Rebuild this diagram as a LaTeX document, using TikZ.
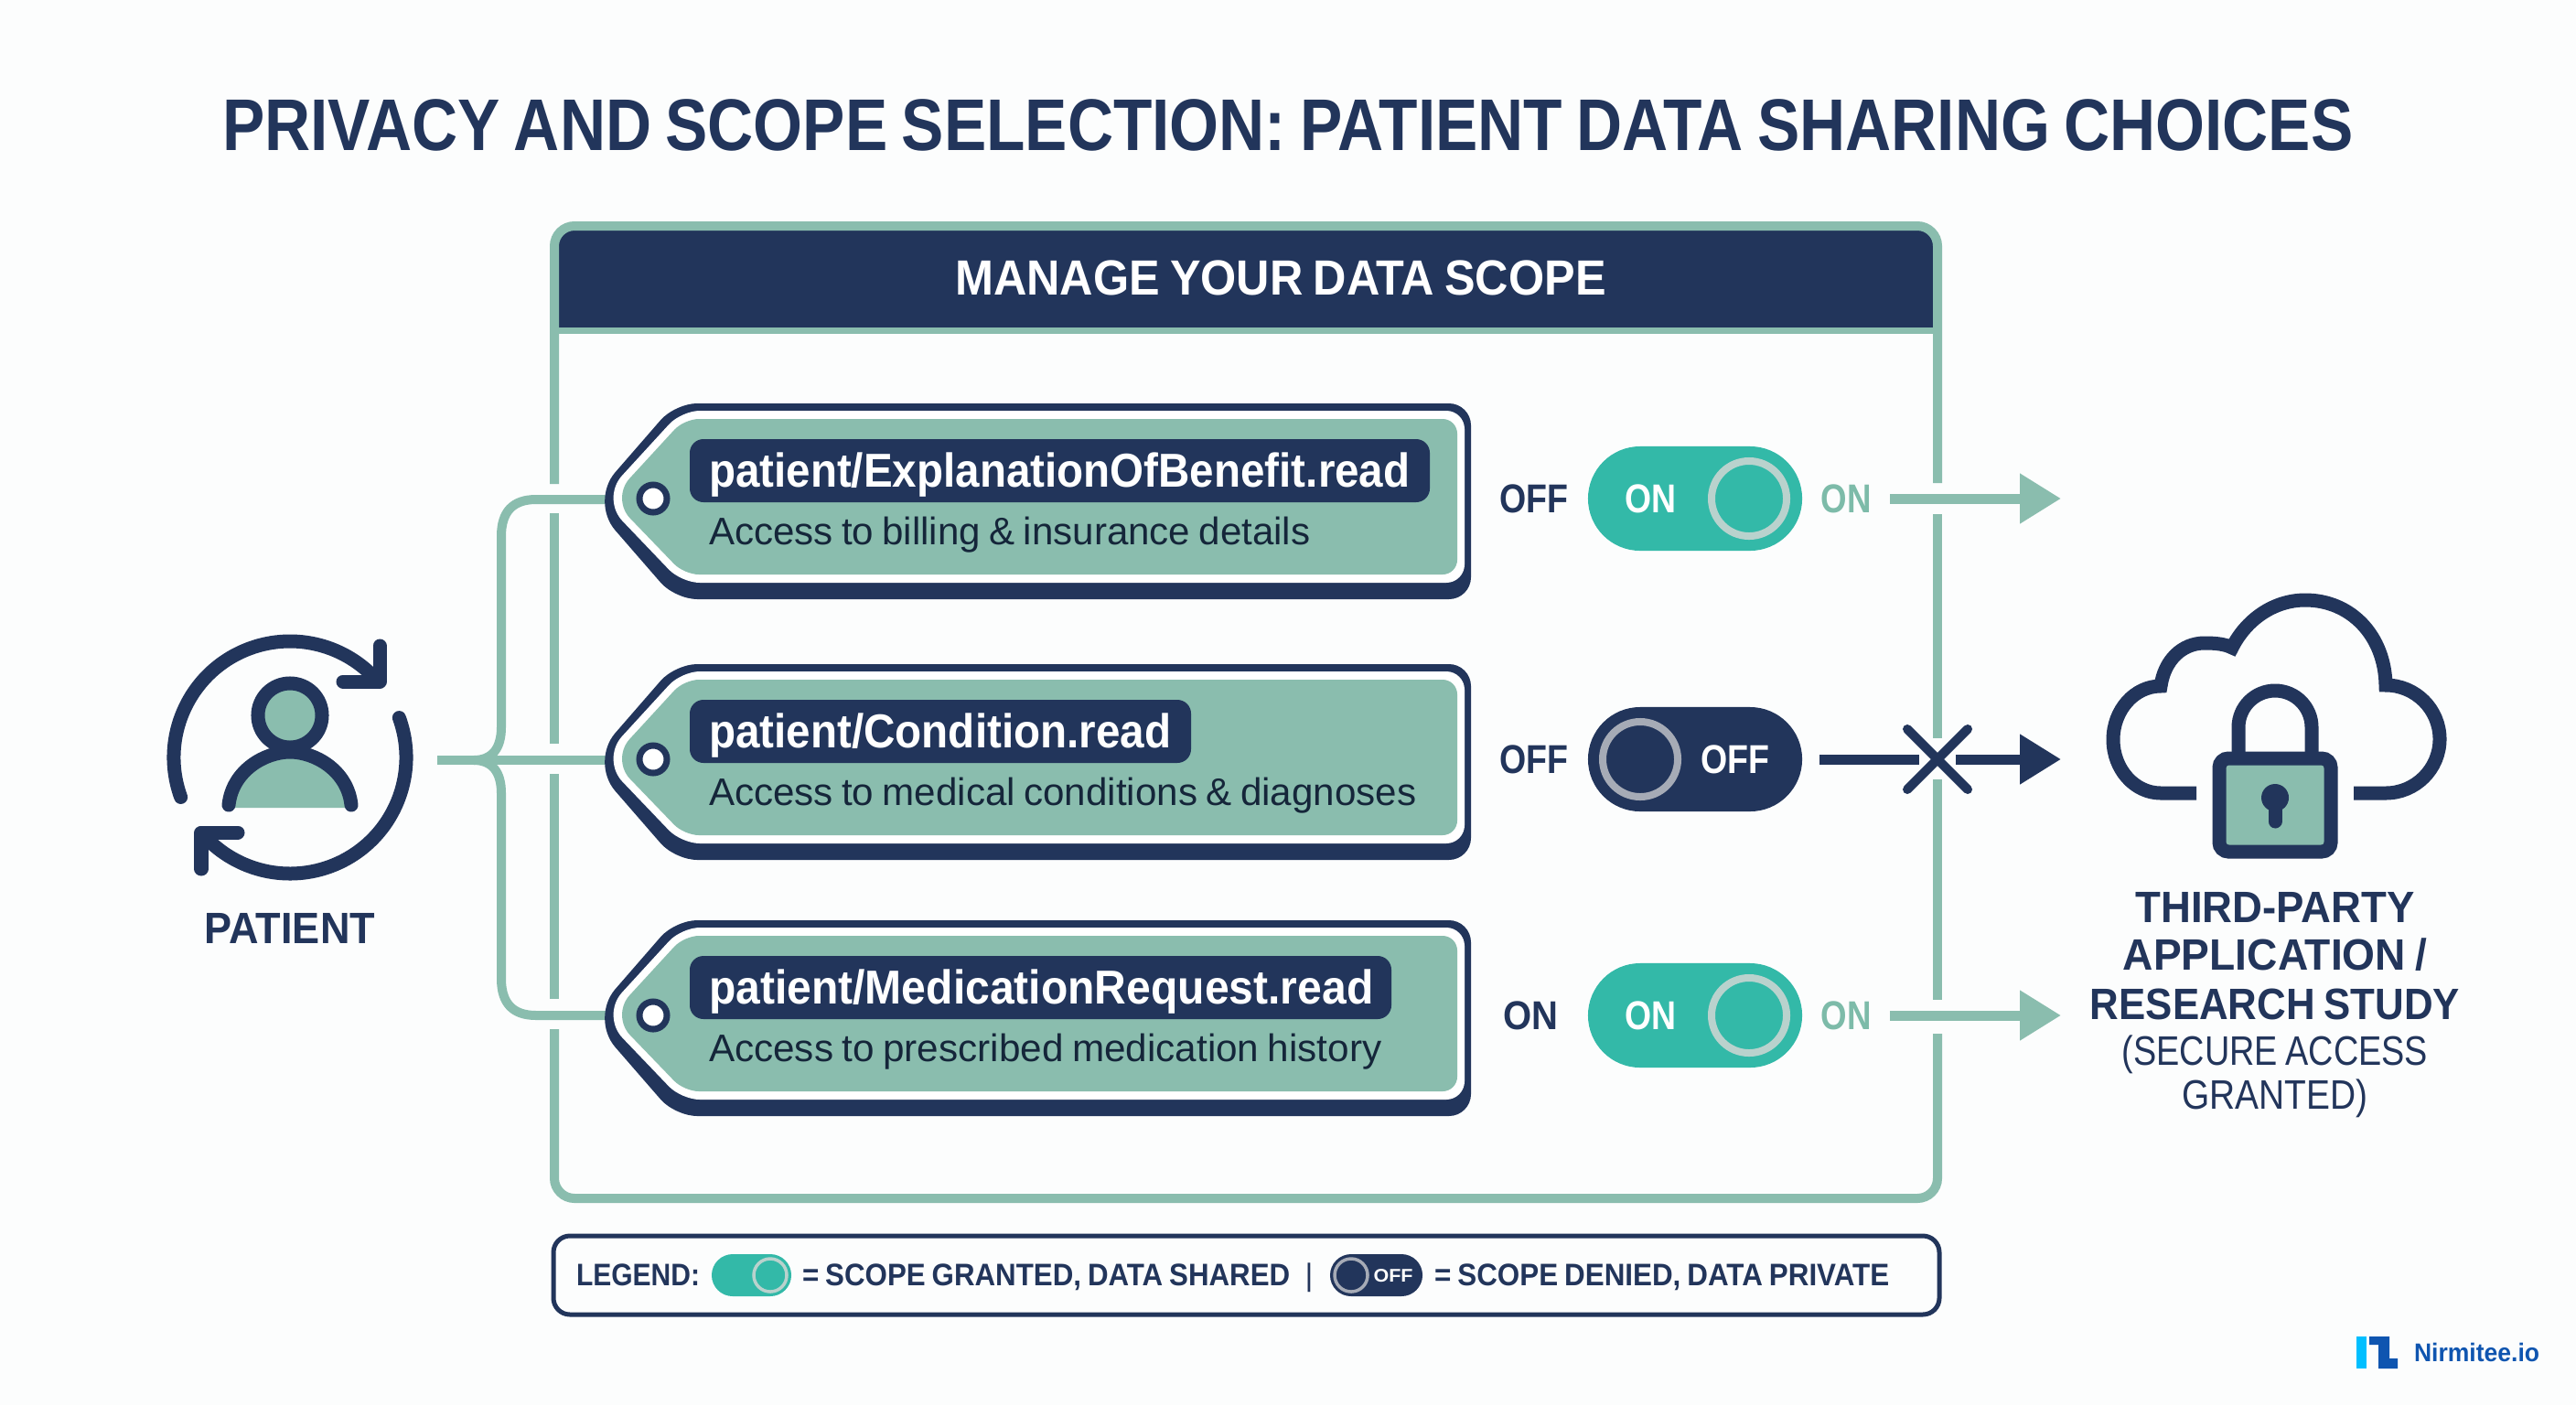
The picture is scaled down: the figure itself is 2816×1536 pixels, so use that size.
\documentclass[tikz,border=0pt]{standalone}
\usepackage{fontspec}
\usepackage{graphicx}
\usetikzlibrary{arrows.meta,shapes.misc}
\setmainfont[WordSpace=0.8]{Liberation Sans}
\definecolor{navy}{HTML}{22355B}
\definecolor{sage}{HTML}{8ABDAE}
\definecolor{mint}{HTML}{33B9A8}
\definecolor{bgc}{HTML}{FCFDFD}
\definecolor{descc}{HTML}{15263A}
\definecolor{onlab}{HTML}{7DBBA9}
\definecolor{ringa}{HTML}{B9D2CD}
\definecolor{ringb}{HTML}{A6ABB6}
\definecolor{logoa}{HTML}{00BFFF}
\definecolor{logob}{HTML}{0F55B0}
\newcommand\fs[1]{\fontsize{\fpeval{#1*0.284528}pt}{\fpeval{#1*0.34}pt}\selectfont}
% width in px, font size in px, text
\newcommand\fw[3]{\begingroup\fs{#2}\sbox0{#3}\scalebox{\fpeval{#1*0.284528/\the\wd0}}[1]{\usebox0}\endgroup}
\tikzset{
  x=0.01cm,y=-0.01cm,
  txt/.style={inner sep=0pt,outer sep=0pt,anchor=base},
  txtl/.style={inner sep=0pt,outer sep=0pt,anchor=base west},
  framel/.style={draw=sage,line width=.1cm},
  busl/.style={draw=sage,line width=.1cm},
  okarrow/.style={draw=sage,line width=.11cm,-{Triangle[length=.45cm,width=.52cm]}},
  noarrow/.style={draw=navy,line width=.11cm},
  iconl/.style={draw=navy,line width=.15cm,line cap=round,line join=round},
  cloudl/.style={draw=navy,line width=.15cm,line join=miter},
  toggle/.style={rounded rectangle,inner sep=0pt,outer sep=0pt,minimum width=2.34cm,minimum height=1.14cm},
  ltoggle/.style={rounded rectangle,inner sep=0pt,outer sep=0pt},
  knob/.style={circle,inner sep=0pt,outer sep=0pt,minimum size=.82cm,line width=.08cm},
  lknob/.style={circle,inner sep=0pt,outer sep=0pt,minimum size=.36cm,line width=.035cm}
}
% name, y offset, pill right edge, pill text, its width, description, its width
\newcommand\scopetag[7]{%
  \begin{scope}[yshift={-#2*0.01cm}]
    \fill[navy,rounded corners=.24cm] (738,441) -- (1608,441) -- (1608,655) -- (738,655) [rounded corners=.42cm] -- (645,548) [rounded corners=.24cm] -- cycle;
    \fill[white,rounded corners=.2cm] (745,449) -- (1601,449) -- (1601,637) -- (745,637) [rounded corners=.34cm] -- (657,545) [rounded corners=.2cm] -- cycle;
    \fill[sage,rounded corners=.16cm] (748,458) -- (1593,458) -- (1593,628) -- (748,628) [rounded corners=.3cm] -- (668,545) [rounded corners=.16cm] -- cycle;
    \node[circle,draw=navy,fill=white,line width=.07cm,minimum size=.3cm,inner sep=0pt] (hole#1) at (714,545) {};
    \fill[navy,rounded corners=.15cm] (754,480) rectangle (#3,549);
    \node[txtl,text=white] (scope#1) at (775,532) {\fw{#5}{52}{\bfseries #4}};
    \node[txtl,text=descc] (desc#1) at (775,595) {\fw{#7}{42}{#6}};
  \end{scope}}
\newcommand\ontoggle[2]{%
  \node[toggle,fill=mint] (tog#1) at (1853,#2) {};
  \node[knob,draw=ringa,fill=mint] (knob#1) at (1912,#2) {};
  \node[txt,text=white] (toglab#1) at (1804,#2+15) {\fw{56}{44}{\bfseries ON}};
  \node[txt,text=onlab] (onlab#1) at (2018,#2+15) {\fw{55}{44}{\bfseries ON}};}
\begin{document}
\begin{tikzpicture}
\useasboundingbox (0,0) rectangle (2816,1536);
\fill[bgc] (0,0) rectangle (2816,1536);
% title
\node[txt,text=navy] (title) at (1408,164) {\fw{2328}{80}{\bfseries PRIVACY AND SCOPE SELECTION: PATIENT DATA SHARING CHOICES}};
% header and frame
\fill[navy,rounded corners=.18cm] (608,252) -- (608,358) -- (2118,358) -- (2118,252) -- cycle;
\fill[navy] (608,290) rectangle (2118,358);
\draw[framel,rounded corners=.22cm] (606,529) -- (606,247) -- (2118,247) -- (2118,528);
\draw[framel] (606,561) -- (606,813);
\draw[framel] (606,846) -- (606,1092);
\draw[framel,rounded corners=.22cm] (606,1125) -- (606,1310) -- (2118,1310) -- (2118,1130);
\draw[framel] (2118,562) -- (2118,807);
\draw[framel] (2118,852) -- (2118,1093);
\draw[draw=sage,line width=.07cm] (606,361) -- (2118,361);
\node[txt,text=white] (header) at (1400,322) {\fw{711}{54}{\bfseries MANAGE YOUR DATA SCOPE}};
% connector anchors
\coordinate (stem) at (478,831);
\coordinate (split) at (518,831);
\coordinate (tag1tip) at (662,546);
\coordinate (tag2tip) at (662,831);
\coordinate (tag3tip) at (662,1110);
\draw[busl] (stem) -- (tag2tip);
\draw[busl] (split) .. controls (538,831) and (548,818) .. (548,795) -- (548,586) .. controls (548,560) and (560,546) .. (586,546) -- (tag1tip);
\draw[busl] (split) .. controls (538,831) and (548,844) .. (548,867) -- (548,1070) .. controls (548,1096) and (560,1110) .. (586,1110) -- (tag3tip);
% tags
\scopetag{A}{0}{1563}{patient/ExplanationOfBenefit.read}{766}{Access to billing \& insurance details}{657}
\scopetag{B}{285}{1302}{patient/Condition.read}{505}{Access to medical conditions \& diagnoses}{773}
\scopetag{C}{565}{1521}{patient/MedicationRequest.read}{726}{Access to prescribed medication history}{735}
% left labels
\node[txt,text=navy] (labA) at (1677,560) {\fw{75}{44}{\bfseries OFF}};
\node[txt,text=navy] (labB) at (1677,845) {\fw{75}{44}{\bfseries OFF}};
\node[txt,text=navy] (labC) at (1673,1125) {\fw{60}{44}{\bfseries ON}};
% toggles
\ontoggle{A}{545}
\ontoggle{C}{1110}
\node[toggle,fill=navy] (togB) at (1853,830) {};
\node[knob,draw=ringb,fill=navy] (knobB) at (1793,830) {};
\node[txt,text=white] (toglabB) at (1897,845) {\fw{75}{44}{\bfseries OFF}};
% arrows
\coordinate (outA) at (2066,545);
\coordinate (outC) at (2066,1110);
\coordinate (inA) at (2253,545);
\coordinate (inB) at (2253,830);
\coordinate (inC) at (2253,1110);
\coordinate (outB) at (1989,830);
\coordinate (xmark) at (2118,830);
\draw[okarrow] (outA) -- (inA);
\draw[okarrow] (outC) -- (inC);
\draw[noarrow] (outB) -- ([xshift=-.2cm]xmark);
\draw[noarrow,-{Triangle[length=.45cm,width=.52cm]}] ([xshift=.2cm]xmark) -- (inB);
\draw[navy,line width=.1cm,line cap=round] (2085,797) -- (2151,863);
\draw[navy,line width=.1cm,line cap=round] (2151,797) -- (2085,863);
% patient icon
\coordinate (ring) at (317,828);
\draw[iconl] (ring) ++(160:127) arc[start angle=160,end angle=319,radius=127];
\draw[iconl] (ring) ++(-20:127) arc[start angle=-20,end angle=139.5,radius=127];
\draw[iconl] (415,706) -- (415,745) -- (375,745);
\draw[iconl] (220,950) -- (220,910) -- (260,910);
\fill[sage] (254,883) .. controls (258,842) and (290,822) .. (317,822) .. controls (344,822) and (376,842) .. (380,883) -- cycle;
\draw[iconl] (250,880) .. controls (254,842) and (290,822) .. (317,822) .. controls (344,822) and (380,842) .. (384,880);
\node[circle,draw=navy,fill=sage,line width=.15cm,minimum size=.7cm,inner sep=0pt] (head) at (317,782) {};
\node[txt,text=navy] (patient) at (317,1031) {\fw{186}{48}{\bfseries PATIENT}};
% cloud and lock
\draw[cloudl] (2401,867) -- (2362,867) arc[start angle=90,end angle=270,x radius=52,y radius=58.5]
  .. controls (2366,722) and (2385,703) .. (2410,703) .. controls (2422,703) and (2432,704) .. (2440,708)
  .. controls (2455,678) and (2485,656) .. (2520,656) .. controls (2570,656) and (2607,695) .. (2608,749)
  arc[start angle=270,end angle=450,radius=59] -- (2573,867);
\draw[cloudl] (2447,825) -- (2447,795) arc[start angle=180,end angle=360,radius=40] -- (2527,825);
\draw[cloudl,fill=sage,rounded corners=.1cm] (2426,829) rectangle (2548,931);
\fill[navy] (2487,872) circle[radius=15];
\draw[navy,line width=.15cm,line cap=round] (2487,875) -- (2487,898);
\node[txt,text=navy] (t1) at (2487,1008) {\fw{305}{48}{\bfseries THIRD-PARTY}};
\node[txt,text=navy] (t2) at (2487,1060) {\fw{332}{48}{\bfseries APPLICATION /}};
\node[txt,text=navy] (t3) at (2487,1114) {\fw{404}{48}{\bfseries RESEARCH STUDY}};
\node[txt,text=navy] (t4) at (2487,1164) {\fw{334}{45}{(SECURE ACCESS}};
\node[txt,text=navy] (t5) at (2487,1212) {\fw{203}{45}{GRANTED)}};
% legend
\draw[draw=navy,line width=.05cm,fill=bgc,rounded corners=.18cm] (605,1351) rectangle (2120,1437);
\node[txtl,text=navy] (lg1) at (630,1405) {\fw{135}{34}{\bfseries LEGEND:}};
\node[ltoggle,fill=mint,minimum width=.87cm,minimum height=.46cm] (lgon) at (821.5,1394) {};
\node[lknob,draw=ringa,fill=mint] (lgonk) at (842,1394) {};
\node[txtl,text=navy] (lg2) at (877,1405) {\fw{533}{34}{\bfseries = SCOPE GRANTED, DATA SHARED}};
\node[txt,text=navy] (lgbar) at (1431,1405) {\fs{34}|};
\node[ltoggle,fill=navy,minimum width=1.01cm,minimum height=.46cm] (lgoff) at (1504.5,1394) {};
\node[lknob,draw=ringb,fill=navy] (lgoffk) at (1477,1394) {};
\node[txt,text=white] (lgofft) at (1523,1401) {\fw{43}{20}{\bfseries OFF}};
\node[txtl,text=navy] (lg3) at (1568,1405) {\fw{497}{34}{\bfseries = SCOPE DENIED, DATA PRIVATE}};
% logo
\fill[logoa] (2576,1461) rectangle (2587,1496);
\fill[logob] (2590,1461) -- (2612,1461) -- (2612,1485) -- (2621,1485) -- (2621,1496) -- (2600,1496) -- (2600,1470) -- (2590,1470) -- cycle;
\node[txtl,text=logob] (logotext) at (2639,1488) {\fw{137}{28}{\bfseries Nirmitee.io}};
\end{tikzpicture}
\end{document}
